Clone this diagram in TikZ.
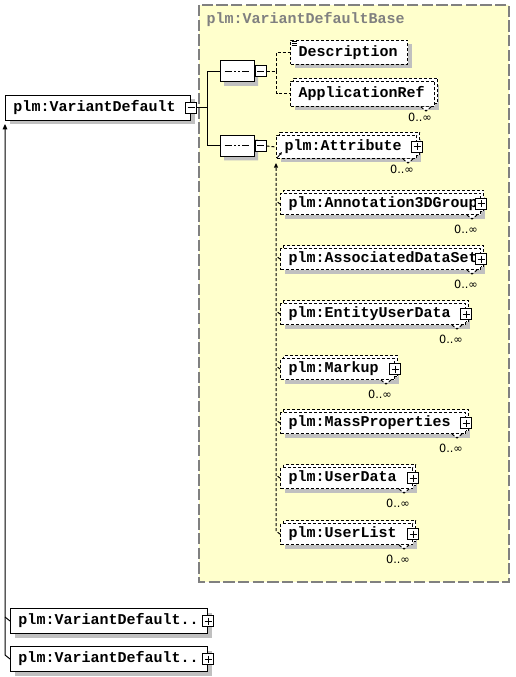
\documentclass[tikz,border=0pt]{standalone}
\usepackage{fontspec}
\setmonofont{Liberation Mono}
\newfontfamily\multfont{DejaVu Sans}
\usetikzlibrary{shapes.misc, arrows.meta, positioning, calc, shadows}
\definecolor{xsdYellow}{RGB}{255, 255, 204}
\definecolor{xsdGray}{RGB}{128, 128, 128}
\definecolor{xsdShadow}{RGB}{192, 192, 192}
\newcommand{\xsdtext}{\ttfamily\bfseries\fontsize{11.25}{13}\selectfont\hyphenpenalty=10000\relax}

\tikzset{
  elem/.style={draw, fill=white, line width=0.75pt, anchor=north west, inner xsep=6pt, inner ysep=0pt, align=left, font=\xsdtext,
    general shadow={fill=xsdShadow, draw=none, shadow xshift=3pt, shadow yshift=-3pt}},
  optional/.style={elem, dash pattern=on 2.25pt off 1.5pt},
  multi/.style={optional, general shadow={fill=white, draw=black, line width=0.75pt, dash pattern=on 2.25pt off 1.5pt, shadow xshift=2.25pt, shadow yshift=2.25pt}},
  seqbox/.style={chamfered rectangle, chamfered rectangle xsep=3pt, chamfered rectangle ysep=3pt, draw, fill=white, line width=0.75pt, minimum width=25.5pt, minimum height=15.75pt, inner sep=0pt,
    general shadow={fill=xsdShadow, draw=none, shadow xshift=3pt, shadow yshift=-3pt},
    path picture={
      \draw ([xshift=3.5pt]path picture bounding box.west) -- ([xshift=-3.5pt]path picture bounding box.east);
      \foreach \d in {-3,0,3} \fill ([shift={(\d pt-1.1pt,-1.1pt)}]path picture bounding box.center) rectangle +(2.2pt,2.2pt);}},
  minusbox/.style={draw, fill=white, line width=0.75pt, minimum size=8.25pt, inner sep=0pt,
    path picture={\draw ([xshift=1.5pt]path picture bounding box.west) -- ([xshift=-1.5pt]path picture bounding box.east);}},
  plusbox/.style={draw, fill=white, line width=0.75pt, minimum size=8.25pt, inner sep=0pt,
    path picture={\draw ([xshift=1.5pt]path picture bounding box.west) -- ([xshift=-1.5pt]path picture bounding box.east);
      \draw ([yshift=-1.5pt]path picture bounding box.north) -- ([yshift=1.5pt]path picture bounding box.south);}},
  mult/.style={font=\multfont\fontsize{8.5}{10}\selectfont, inner sep=0pt},
  optline/.style={line width=0.75pt, dash pattern=on 2.25pt off 1.5pt},
  basetitle/.style={anchor=west, inner sep=0pt, text=xsdGray, font=\xsdtext}
}

\begin{document}
\begin{tikzpicture}[x=0.75pt, y=-0.75pt, line width=0.75pt]
\useasboundingbox (0,0) rectangle (515,677);

% Base type
\draw[fill=xsdYellow, draw=xsdGray, line width=1.1pt, dash pattern=on 8.5pt off 2.5pt] (199,5) rectangle (509,582);
\node[basetitle] (basename) at (206,20) {plm:VariantDefaultBase};

% Root element
\node[elem, text width=126.75pt, minimum height=18.75pt] (vd) at (5,95) {plm:VariantDefault};
\node[minusbox] (vd-x) at (vd.east) {};

% Sequences
\node[seqbox] (seq1) at (237,71.5) {};
\node[minusbox, right=0pt of seq1] (seq1-x) {};
\node[seqbox] (seq2) at (237,146) {};
\node[minusbox, right=0pt of seq2] (seq2-x) {};

% Children
\node[optional, text width=75.75pt, minimum height=18pt] (desc) at (290,40) {Description};
\node[multi, text width=96pt, minimum height=18.75pt] (appref) at (290,81) {ApplicationRef};
\node[multi, text width=93pt, minimum height=17.25pt] (attr) at (276,135) {plm:Attribute};
\node[plusbox] (attr-x) at (attr.east) {};

% Substitution group
\node[multi, text width=138pt, minimum height=15.75pt] (anno) at (280,193) {plm:Annotation3DGroup};
\node[multi, text width=138pt, minimum height=15.75pt] (assoc) at (280,248) {plm:AssociatedDataSet};
\node[multi, text width=126.75pt, minimum height=15.75pt] (entity) at (280,303) {plm:EntityUserData};
\node[multi, text width=73.5pt, minimum height=15.75pt] (markup) at (280,358) {plm:Markup};
\node[multi, text width=126.75pt, minimum height=15.75pt] (mass) at (280,412) {plm:MassProperties};
\node[multi, text width=87pt, minimum height=15.75pt] (udata) at (280,467) {plm:UserData};
\node[multi, text width=87pt, minimum height=15.75pt] (ulist) at (280,523) {plm:UserList};
\foreach \n in {anno, assoc, entity, markup, mass, udata, ulist} \node[plusbox] (\n-x) at (\n.east) {};

% Derived types
\node[elem, text width=135.75pt, minimum height=18.75pt] (vd1) at (10,608) {plm:VariantDefault..};
\node[plusbox] (vd1-x) at (vd1.east) {};
\node[elem, text width=135.75pt, minimum height=18.75pt] (vd2) at (10,646) {plm:VariantDefault..};
\node[plusbox] (vd2-x) at (vd2.east) {};

% Occurrences
\foreach \n/\dy in {appref/7.5, attr/7.5, anno/10.5, assoc/10.5, entity/10.5, markup/10.5, mass/10.5, udata/10.5, ulist/10.5} {
  \draw[optline, fill=white] ([xshift=-10.5pt]\n.south east) -- ++(5,4) -- ++(5,-4);
  \node[mult] (\n-m) at ([shift={(-11.25pt,-\dy pt)}]\n.south east) {0..∞};
}

% Icons
\foreach \k in {1.5,3.5,5.5} \draw[line width=0.6pt] ([shift={(1.5,\k)}]desc.north west) -- ++(5,0);
\draw[-{Latex[length=2.2pt,width=2.2pt]}, line width=0.6pt] ([shift={(1,-1)}]attr.south west) -- ++(5,-6);

% Connectors
\draw (vd-x.east) -- ++(10,0) |- (seq1.west);
\draw (vd-x.east) -- ++(10,0) |- (seq2.west);
\draw[optline] (seq1-x.east) -- ++(10,0) |- (desc.west);
\draw[optline] (seq1-x.east) -- ++(10,0) |- (appref.west);
\draw[optline] (seq2-x.east) -- (attr.west);

\coordinate (subtop) at ([yshift=-3pt]attr.south west);
\foreach \n in {anno, assoc, entity, markup, mass, udata} \draw[optline] (\n.west) -- ++(-4,-3);
\draw[optline, -{Triangle[length=3.5pt,width=3pt]}] (ulist.west) -- ++(-4,-3) -- (subtop);

\coordinate (vdtop) at ([yshift=-2.25pt]vd.south west);
\draw (vd1.west) -- ++(-5,-4);
\draw[-{Triangle[length=4pt,width=3.5pt]}] (vd2.west) -- ++(-5,-4) -- (vdtop);
\end{tikzpicture}
\end{document}
